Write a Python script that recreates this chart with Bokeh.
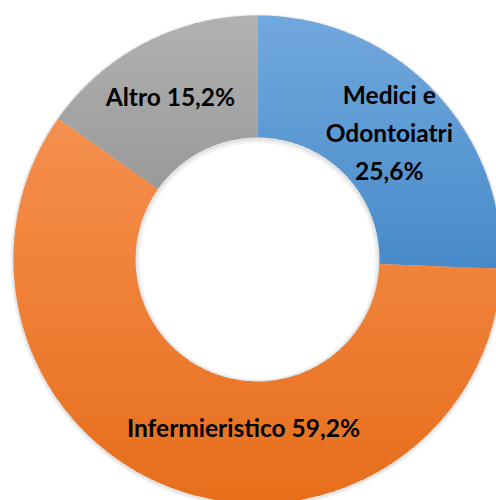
import math
from bokeh.plotting import figure
from bokeh.models import Range1d, ColumnDataSource
from bokeh.core.properties import value
from bokeh.embed import file_html
from bokeh.resources import INLINE

categories = ["Medici e Odontoiatri", "Infermieristico", "Altro"]
shares = [25.6, 59.2, 15.2]
labels = ["Medici e\nOdontoiatri\n25,6%", "Infermieristico 59,2%", "Altro  15,2%"]
# vertical gradient per slice: colour at top of ring, colour at bottom of ring
top_colors = [(113, 168, 221), (249, 152, 92), (177, 177, 177)]
bottom_colors = [(32, 110, 182), (231, 110, 27), (111, 111, 111)]

W, H = 496, 500
cx, cy = 257, H - 259
r_out, r_in = 244, 122

p = figure(width=W, height=H, output_backend="svg", toolbar_location=None,
           x_range=Range1d(0, W), y_range=Range1d(0, H), min_border=0)
p.axis.visible = False
p.grid.visible = False
p.outline_line_color = None
p.background_fill_color = "white"

total = sum(shares)
starts, ends, mids = [], [], []
cum = 0.0
for s in shares:
    a0 = math.pi / 2 - 2 * math.pi * (cum + s) / total
    a1 = math.pi / 2 - 2 * math.pi * cum / total
    starts.append(a0)
    ends.append(a1)
    mids.append((a0 + a1) / 2)
    cum += s

# soft shadow around the ring
p.annular_wedge(x=cx, y=cy - 1.5, inner_radius=r_in - 4, outer_radius=r_out + 3,
                start_angle=0, end_angle=2 * math.pi, fill_color="#000000",
                fill_alpha=0.05, line_color=None)
p.annular_wedge(x=cx, y=cy - 1, inner_radius=r_in - 2, outer_radius=r_out + 1.5,
                start_angle=0, end_angle=2 * math.pi, fill_color="#000000",
                fill_alpha=0.06, line_color=None)


def sector_polygon(a0, a1, n=120):
    pts = []
    for k in range(n + 1):
        a = a0 + (a1 - a0) * k / n
        pts.append((cx + r_out * math.cos(a), cy + r_out * math.sin(a)))
    for k in range(n + 1):
        a = a1 - (a1 - a0) * k / n
        pts.append((cx + r_in * math.cos(a), cy + r_in * math.sin(a)))
    return pts


def clip(poly, yv, keep_above):
    out = []
    if not poly:
        return out
    def inside(pt):
        return pt[1] >= yv if keep_above else pt[1] <= yv
    prev = poly[-1]
    for cur in poly:
        ci, pi_ = inside(cur), inside(prev)
        if ci:
            if not pi_:
                t = (yv - prev[1]) / (cur[1] - prev[1])
                out.append((prev[0] + t * (cur[0] - prev[0]), yv))
            out.append(cur)
        elif pi_:
            t = (yv - prev[1]) / (cur[1] - prev[1])
            out.append((prev[0] + t * (cur[0] - prev[0]), yv))
        prev = cur
    return out


band = 4.0
y_top, y_bot = cy + r_out, cy - r_out
xs, ys, fills = [], [], []
for i in range(len(shares)):
    poly = sector_polygon(starts[i], ends[i])
    y = y_bot
    while y < y_top:
        y0, y1 = y - 0.4, y + band + 0.4
        piece = clip(clip(poly, y0, True), y1, False)
        if len(piece) >= 3:
            f = ((y + band / 2) - y_bot) / (y_top - y_bot)
            c = tuple(int(round(bottom_colors[i][k] + (top_colors[i][k] - bottom_colors[i][k]) * f)) for k in range(3))
            xs.append([q[0] for q in piece])
            ys.append([q[1] for q in piece])
            fills.append("#%02x%02x%02x" % c)
        y += band

p.patches(xs="xs", ys="ys", fill_color="fills", line_color=None,
          source=ColumnDataSource(dict(xs=xs, ys=ys, fills=fills)))

# labels
r_mid = (r_in + r_out) / 2
lx = [cx + r_mid * math.cos(m) for m in mids]
ly = [cy + r_mid * math.sin(m) for m in mids]
# the large slice's label sits near the bottom of the ring, as in the original
lx[1] = cx - 14
ly[1] = cy - 168

lsrc = ColumnDataSource(dict(x=lx, y=ly, t=labels))
p.text(x="x", y="y", text="t", source=lsrc, text_font=value("Lato"),
       text_font_style="bold", text_font_size="24.5px", text_color="#000000",
       text_align="center", text_baseline="middle", text_line_height=1.3)

open("out.html", "w").write(file_html(p, INLINE))
